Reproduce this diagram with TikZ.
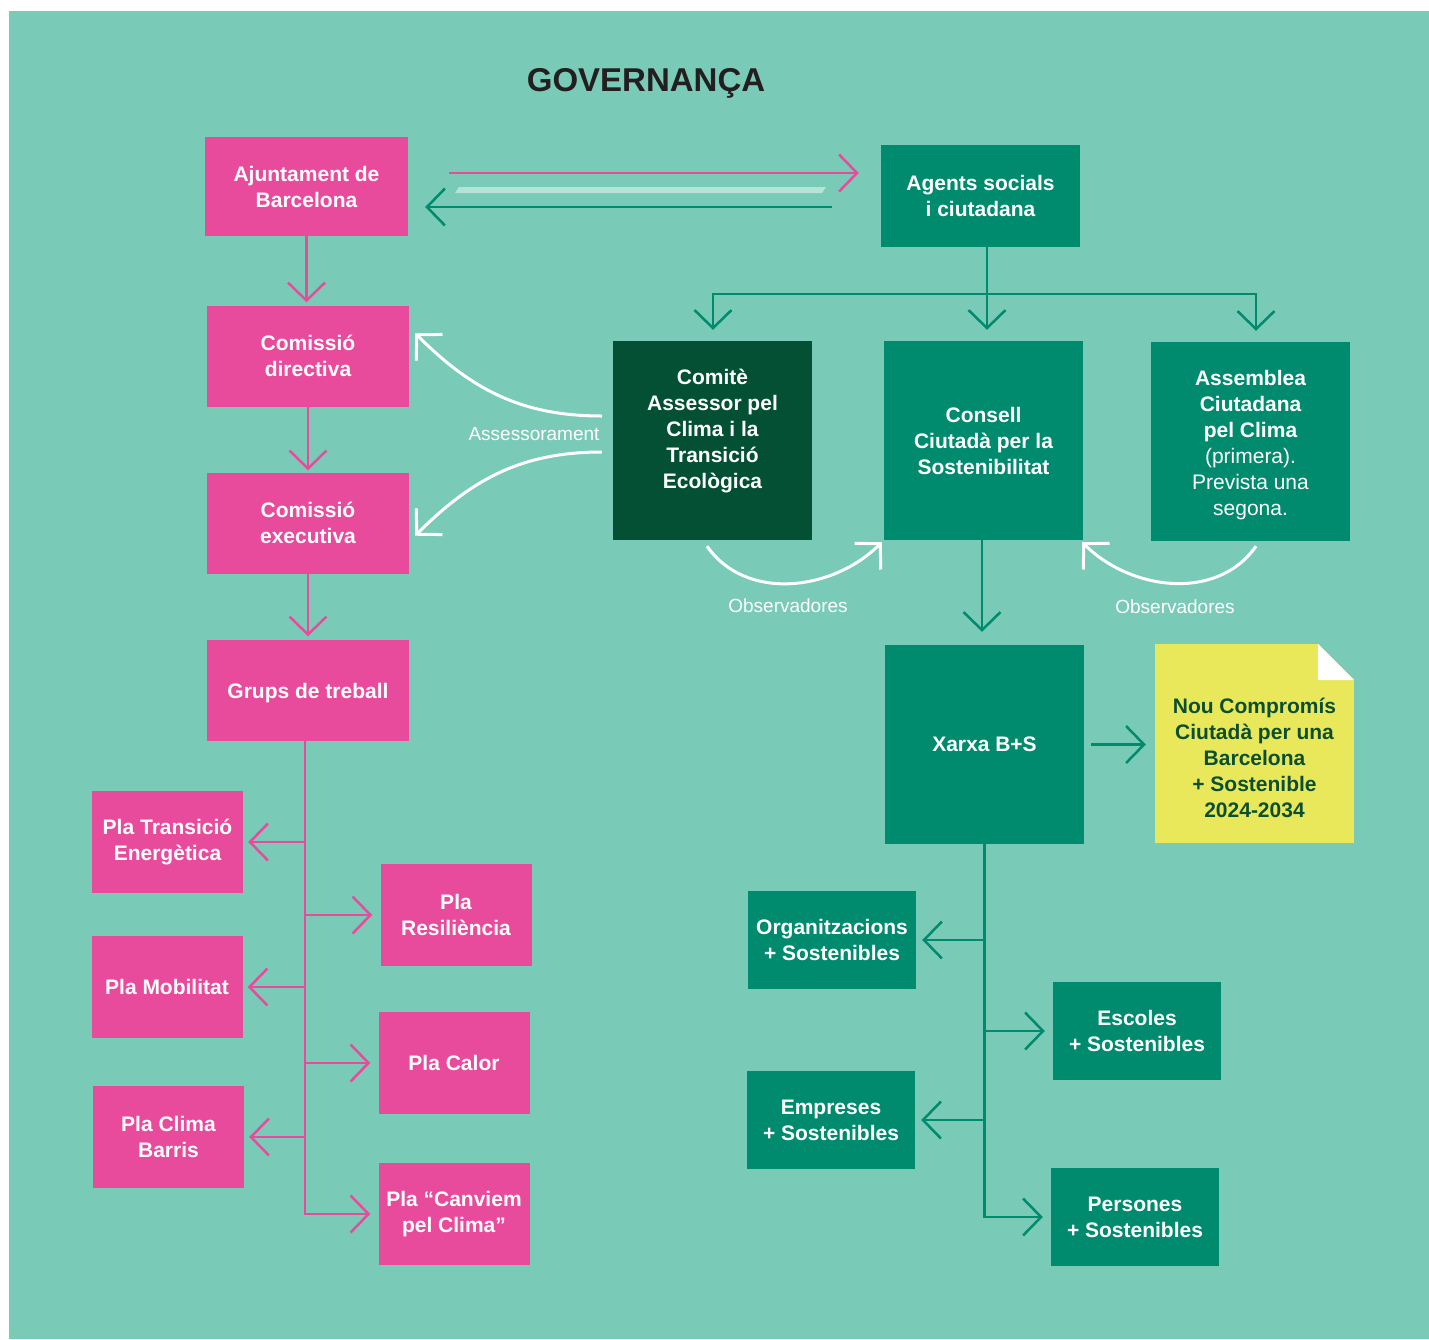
\documentclass[tikz,border=0pt]{standalone}
\usepackage{fontspec}
\setmainfont{Liberation Sans}
\usetikzlibrary{arrows.meta}

\definecolor{govteal}{HTML}{7ACAB8}
\definecolor{govpink}{HTML}{E94B9C}
\definecolor{govgreen}{HTML}{008B6E}
\definecolor{govdark}{HTML}{035034}
\definecolor{govyellow}{HTML}{E8E85A}
\definecolor{govstripe}{HTML}{B5E3D5}
\definecolor{govnote}{HTML}{0B4F30}
\definecolor{govtitle}{HTML}{231F20}

\begin{document}
\begin{tikzpicture}[x=1pt,y=-1pt,
  box/.style={inner sep=0pt, align=center, text=white, font=\fontsize{21}{26}\selectfont\bfseries},
  rosa/.style={box, fill=govpink},
  verd/.style={box, fill=govgreen},
  fosc/.style={box, fill=govdark},
  big/.style={minimum width=199pt, minimum height=199pt},
  main/.style={minimum width=202pt, minimum height=101pt},
  pla/.style={minimum width=151pt, minimum height=102pt},
  xarxabox/.style={minimum width=168pt, minimum height=98pt},
  pinkline/.style={govpink, line width=2.5pt},
  greenline/.style={govgreen, line width=2.5pt},
  whiteline/.style={white, line width=3pt},
  barb/.style={-{Straight Barb[length=18pt,width=37pt]}},
  note/.style={font=\fontsize{19}{22}\selectfont, text=white, inner sep=0pt}]
\useasboundingbox (0,0) rectangle (1429,1339);
\fill[white] (0,0) rectangle (1429,1339);
\fill[govteal] (9,11) rectangle (1429,1339);

% title
\node[font=\fontsize{33}{36}\selectfont\bfseries, text=govtitle] (title) at (646,83) {GOVERNANÇA};

% city side
\node[rosa, main, minimum width=203pt, minimum height=99pt] (ajun) at (306.5,186.5) {Ajuntament de\\Barcelona};
\node[rosa, main] (directiva) at (308,356) {Comissió\\directiva};
\node[rosa, main] (executiva) at (308,523) {Comissió\\executiva};
\node[rosa, main] (grups) at (308,690) {};
\node[box] (grupstext) at ([yshift=-3pt]grups.center) {Grups de treball};

\node[rosa, pla] (ptrans) at (167.5,842) {Pla Transició\\Energètica};
\node[rosa, pla] (presil) at (456,915) {Pla\\Resiliència};
\node[rosa, pla] (pmob) at (167,987) {Pla Mobilitat};
\node[rosa, pla] (pcalor) at (454,1063) {Pla Calor};
\node[rosa, pla] (pbarris) at (168.5,1137) {Pla Clima\\Barris};
\node[rosa, pla] (pcanv) at (454,1214) {Pla “Canviem\\pel Clima”};

% citizen side
\node[verd, minimum width=199pt, minimum height=102pt] (agents) at (980.5,196) {Agents socials\\i ciutadana};
\node[fosc, big] (comite) at (712.5,440.5) {};
\node[box] (comitetext) at ([yshift=9pt]comite.center) {Comitè\\Assessor pel\\Clima i la\\Transició\\Ecològica};
\node[verd, big] (consell) at (983.5,440.5) {Consell\\Ciutadà per la\\Sostenibilitat};
\node[verd, big] (assemblea) at (1250.5,441.5) {};
\node[box] (assembleatext) at ([yshift=-4pt]assemblea.center) {Assemblea\\Ciutadana\\pel Clima\\\mdseries (primera).\\\mdseries Prevista una\\\mdseries segona.};
\node[verd, big] (xarxa) at (984.5,744.5) {Xarxa B+S};
\node[box, big, fill=govyellow,
  path picture={
    \fill[govteal] ([xshift=-36pt]path picture bounding box.north east) -- (path picture bounding box.north east) -- ([yshift=-36pt]path picture bounding box.north east) -- cycle;
    \fill[white] ([xshift=-36pt]path picture bounding box.north east) -- ([xshift=-36pt,yshift=-36pt]path picture bounding box.north east) -- ([yshift=-36pt]path picture bounding box.north east) -- cycle;
  }] (nou) at (1254.5,743.5) {};
\node[box, text=govnote] (noutext) at ([yshift=-14pt]nou.center) {Nou Compromís\\Ciutadà per una\\Barcelona\\+ Sostenible\\2024-2034};

\node[verd, xarxabox] (organ) at (832,940) {Organitzacions\\+ Sostenibles};
\node[verd, xarxabox] (escoles) at (1137,1031) {Escoles\\+ Sostenibles};
\node[verd, xarxabox] (empreses) at (831,1120) {Empreses\\+ Sostenibles};
\node[verd, xarxabox] (persones) at (1135,1217) {Persones\\+ Sostenibles};

% exchange between city and citizens
\fill[govstripe] (459,187) -- (826,187) -- (822,193) -- (455,193) -- cycle;
\draw[pinkline, barb] ([xshift=41pt,yshift=13.5pt]ajun.east) -- ([xshift=-22pt,yshift=23pt]agents.west);
\draw[greenline, barb] ([xshift=-49pt,yshift=-11pt]agents.west) -- ([xshift=17pt,yshift=-20.5pt]ajun.east);

% city chain
\draw[pinkline, barb, shorten >=3pt] (ajun.south) -- (ajun.south |- directiva.north);
\draw[pinkline, barb, shorten >=2pt] (directiva.south) -- (directiva.south |- executiva.north);
\draw[pinkline, barb, shorten >=3pt] (executiva.south) -- (executiva.south |- grups.north);

\coordinate (ptrunk) at ([xshift=-3pt]grups.south);
\draw[pinkline, barb] (ptrunk) |- ([xshift=-8pt]pcanv.west);
\foreach \n in {ptrans,pmob,pbarris}
  \draw[pinkline, barb] (ptrunk |- \n.east) -- ([xshift=5pt]\n.east);
\foreach \n in {presil,pcalor}
  \draw[pinkline, barb] (ptrunk |- \n.west) -- ([xshift=-8pt]\n.west);

% citizen fork
\coordinate (fork) at ([xshift=6.5pt,yshift=-47pt]agents.south);
\draw[greenline] ([xshift=6.5pt]agents.south) -- (fork);
\draw[greenline, barb] (fork) -| ([xshift=0.5pt,yshift=11pt]comite.north);
\draw[greenline, barb] (fork) -| ([xshift=5.5pt,yshift=11pt]assemblea.north);
\draw[greenline, barb] (fork) -- ([xshift=3.5pt,yshift=11pt]consell.north);

% advice and observers
\draw[whiteline, barb] ([xshift=-11pt,yshift=24.5pt]comite.west) to[out=180, in=-45] ([xshift=6pt,yshift=-28pt]directiva.north east);
\draw[whiteline, barb] ([xshift=-11pt,yshift=-11.5pt]comite.west) to[out=180, in=45] ([xshift=6pt,yshift=38pt]executiva.south east);
\node[note] (assess) at (534,434) {Assessorament};

\draw[whiteline, barb] ([xshift=-5.5pt,yshift=-6pt]comite.south) to[out=-55, in=-135] ([xshift=-2pt,yshift=-2pt]consell.south west);
\draw[whiteline, barb] ([xshift=5.5pt,yshift=-5pt]assemblea.south) to[out=-125, in=-45] ([xshift=-1pt,yshift=-2pt]consell.south east);
\node[note] (obsleft) at (788,606) {Observadores};
\node[note] (obsright) at (1175,607) {Observadores};

% network
\draw[greenline, barb, shorten >=13pt] ([xshift=-1.5pt]consell.south) -- ([xshift=-1.5pt]consell.south |- xarxa.north);
\draw[greenline, barb] ([xshift=7pt]xarxa.east) -- ([xshift=-9pt]xarxa.east -| nou.west);
\draw[greenline, barb] (xarxa.south) |- ([xshift=-8pt]persones.west);
\foreach \n in {organ,empreses}
  \draw[greenline, barb] (xarxa.south |- \n.east) -- ([xshift=6pt]\n.east);
\draw[greenline, barb] (xarxa.south |- escoles.west) -- ([xshift=-8pt]escoles.west);
\end{tikzpicture}
\end{document}
